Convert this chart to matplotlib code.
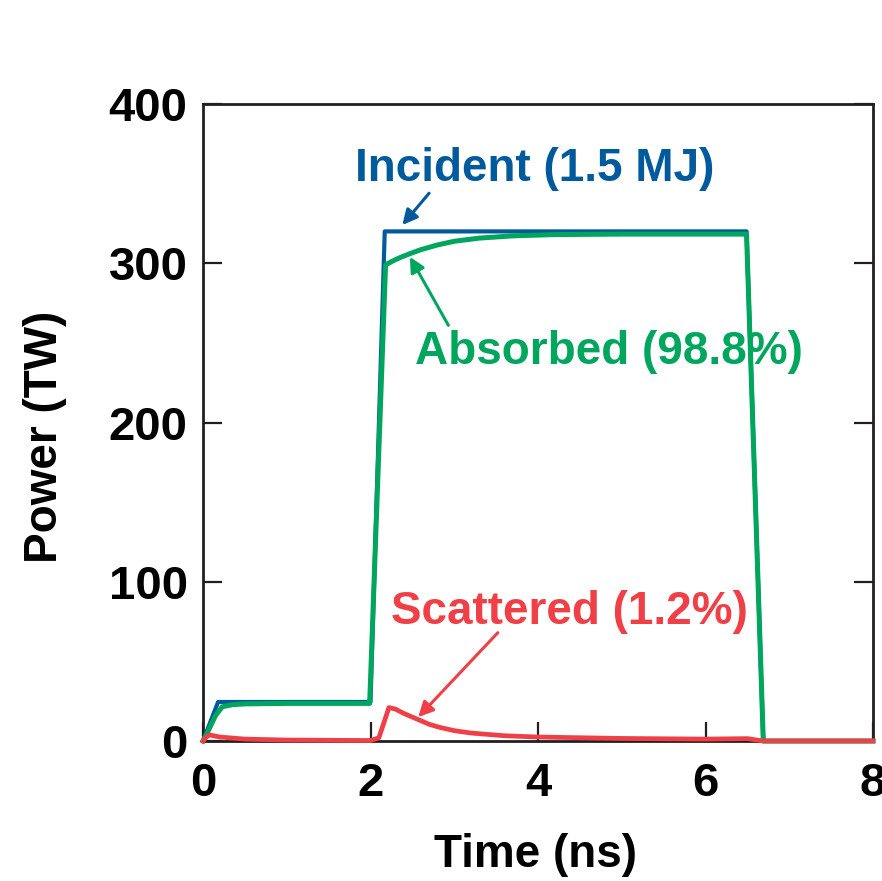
import matplotlib
matplotlib.use("Agg")
import matplotlib.pyplot as plt

# incident laser power (TW) vs time (ns)
t_inc = [0, 0.18, 2.0, 2.17, 6.49, 6.69, 8.0]
p_inc = [0, 24.5, 24.5, 320, 320, 0, 0]

# absorbed power
t_abs = [0, 0.05, 0.15, 0.23, 0.35, 0.5, 1.0, 1.99, 2.18, 2.25, 2.35, 2.47, 2.6, 2.8,
         3.0, 3.3, 3.7, 4.2, 5.0, 6.0, 6.49, 6.69, 8.0]
p_abs = [0, 5, 16, 21.5, 22.8, 23.3, 23.6, 23.6, 299, 301, 303.5, 306, 308.5, 311.5,
         313.8, 315.8, 317.2, 318, 318.3, 318.3, 318.3, 0, 0]

# scattered power
t_sca = [0, 0.04, 0.08, 0.2, 0.5, 1.0, 2.0, 2.1, 2.22, 2.3, 2.39, 2.5, 2.59, 2.7, 2.83,
         3.0, 3.2, 3.6, 4.0, 5.0, 6.0, 6.5, 6.69, 8.0]
p_sca = [0, 2.5, 3.8, 2.5, 1.2, 0.6, 0.3, 2, 21, 20, 17.5, 15, 13, 10.5, 8.5,
         6.5, 5, 3.3, 2.5, 1.6, 1.2, 1.5, 0, 0]

blue = "#005a9c"
green = "#00a65e"
red = "#ef4048"
dark = "#231f20"

plt.rcParams["font.family"] = ["Liberation Sans", "DejaVu Sans"]
plt.rcParams["font.weight"] = "bold"

fig = plt.figure(figsize=(8.82, 8.81), dpi=100)
ax = fig.add_axes([203/882, 1-741/881, 670/882, 637/881])

ax.plot(t_inc, p_inc, color=blue, lw=3.0, zorder=3, clip_on=False)
ax.plot(t_abs, p_abs, color=green, lw=3.6, zorder=4, clip_on=False)
ax.plot(t_sca, p_sca, color=red, lw=3.4, zorder=5, clip_on=False)

ax.set_xlim(0, 8)
ax.set_ylim(0, 400)
ax.set_xticks([0, 2, 4, 6, 8])
ax.set_yticks([0, 100, 200, 300, 400])
ax.tick_params(direction="in", length=14, width=1.6, color=dark, labelsize=34,
               right=True, top=False)
ax.tick_params(axis="x", pad=15)
ax.tick_params(axis="y", pad=11)
for s in ax.spines.values():
    s.set_linewidth(2.0)
    s.set_color(dark)

fig.text(536/882, 1-855/881, "Time (ns)", ha="center", va="center",
         fontsize=33, fontweight="bold")
fig.text(45/882, 1-437/881, "Power (TW)", ha="center", va="center",
         rotation=90, fontsize=33, fontweight="bold")

arrow = dict(arrowstyle="-|>,head_length=0.9,head_width=0.45", lw=2.2,
             shrinkA=0, shrinkB=0)

ax.text(3.96, 359, "Incident (1.5 MJ)", color=blue, fontsize=33,
        fontweight="bold", ha="center", va="center")
ax.annotate("", xy=(2.38, 324), xytext=(2.70, 344),
            arrowprops=dict(arrow, color=blue))

ax.text(4.85, 244, "Absorbed (98.8%)", color=green, fontsize=33,
        fontweight="bold", ha="center", va="center")
ax.annotate("", xy=(2.47, 304), xytext=(2.93, 261),
            arrowprops=dict(arrow, color=green))

ax.text(4.38, 81, "Scattered (1.2%)", color=red, fontsize=33,
        fontweight="bold", ha="center", va="center")
ax.annotate("", xy=(2.57, 15), xytext=(3.52, 68),
            arrowprops=dict(arrow, color=red))

fig.savefig("out.png", dpi=100)
